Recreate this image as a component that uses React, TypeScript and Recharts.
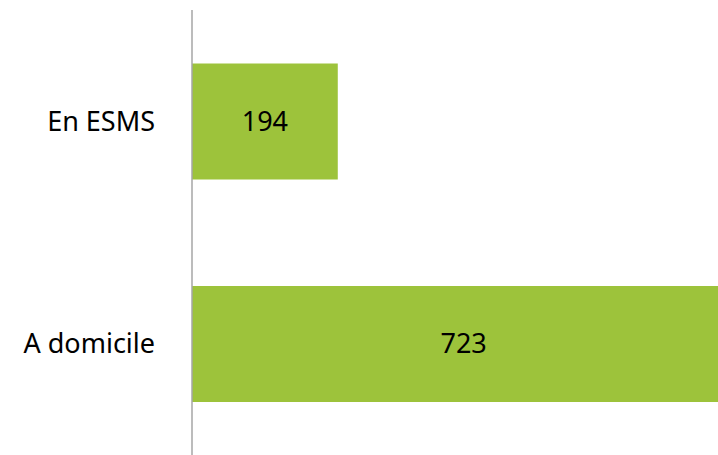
import { BarChart, Bar, XAxis, YAxis, LabelList } from 'recharts';

const categories = ['En ESMS', 'A domicile'];
const values = [194, 723];

const data = categories.map((name, i) => ({ name, value: values[i] }));

const FONT = '"Noto Sans", "Open Sans", sans-serif';

export default function App() {
  return (
    <div style={{ position: 'absolute', left: 0, top: 0, background: '#ffffff' }}>
      <BarChart
        layout="vertical"
        width={718}
        height={455}
        data={data}
        margin={{ top: 10, right: 0, left: 0, bottom: 0 }}
        barCategoryGap="24%"
      >
        <XAxis type="number" domain={[0, 700]} allowDataOverflow hide />
        <YAxis
          type="category"
          dataKey="name"
          width={192}
          axisLine={{ stroke: '#a6a6a6', strokeWidth: 1.5 }}
          tickLine={false}
          tickMargin={31}
          tick={{ fill: '#000000', fontSize: 27, fontFamily: FONT }}
        />
        <Bar dataKey="value" fill="#9dc33b" isAnimationActive={false}>
          <LabelList
            dataKey="value"
            position="center"
            fill="#000000"
            fontSize={27}
            fontFamily={FONT}
          />
        </Bar>
      </BarChart>
    </div>
  );
}
